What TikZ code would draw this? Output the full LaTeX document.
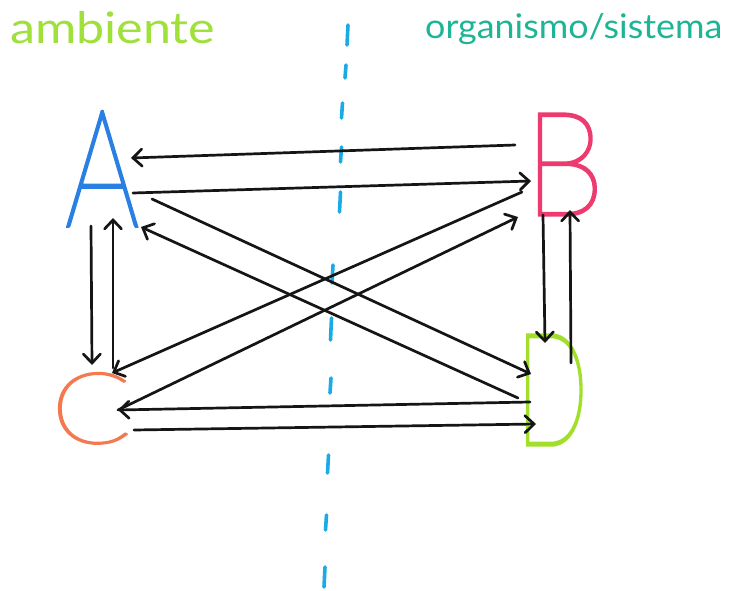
\documentclass[tikz,border=0pt]{standalone}
\usepackage{fontspec}
\usetikzlibrary{arrows.meta}
\setmainfont{Lato}
\IfFontExistsTF{Lato Thin}{\newfontfamily\bigfont{Lato Thin}[FakeBold=2.2]}{%
  \IfFontExistsTF{Lato Light}{\newfontfamily\bigfont{Lato Light}}{\newfontfamily\bigfont{Lato}}}
\definecolor{ambgreen}{HTML}{9FE03A}
\definecolor{orgteal}{HTML}{1EB596}
\definecolor{dashcyan}{HTML}{1AABE6}
\definecolor{Ablue}{HTML}{2A7FE3}
\definecolor{Bpink}{HTML}{EE3B6F}
\definecolor{Corange}{HTML}{F5794F}
\definecolor{Dgreen}{HTML}{A2DF2B}
\definecolor{ink}{HTML}{151515}
\begin{document}
\begin{tikzpicture}[x=1pt,y=-1pt,
  arr/.style={draw=ink, line width=2.7pt, line cap=round,
    -{Straight Barb[length=9pt,width=17pt,line cap=round]}},
  dashseg/.style={draw=dashcyan, line width=3.6pt, line cap=round},
  title/.style={anchor=base west, inner sep=0pt},
  letter/.style={anchor=base west, inner sep=0pt}]
\fill[white] (0,0) rectangle (750,591);
\useasboundingbox (0,0) rectangle (750,591);

% dashed divider
\foreach \xx/\ya/\yb in {347.5/25/45, 345.5/65/78, 342/103/118, 341/147/162,
  340/192/212, 332.5/265/283, 331/318/340, 330.5/378/393, 328/455/473,
  326/515/530, 324.5/567/587}{
  \draw[dashseg] (\xx+0.5,\ya) -- (\xx-0.5,\yb);
}

% titles
\node[title, text=ambgreen] (amb) at (10,44) {\resizebox{205pt}{32pt}{ambiente}};
\node[title, text=orgteal] (org) at (425,39) {\resizebox{297pt}{25pt}{organismo/sistema}};

% letters
\node[letter, text=Ablue]   (A) at (65,226)  {\resizebox{74pt}{114pt}{\bigfont A}};
\node[letter, text=Bpink]   (B) at (524,215) {\resizebox{80pt}{101pt}{\bigfont B}};
\node[letter, text=Corange] (C) at (51,443)  {\resizebox{80pt}{70pt}{\bigfont C}};
\node[letter, text=Dgreen]  (D) at (516,445) {\resizebox{72pt}{110pt}{\bigfont D}};

% arrow end points
\coordinate (ba1) at (515,145); \coordinate (ba2) at (131,158);
\coordinate (ab1) at (133,193); \coordinate (ab2) at (531,181);
\coordinate (ad1) at (152,199); \coordinate (ad2) at (531,374);
\coordinate (da1) at (518,398); \coordinate (da2) at (141,227);
\coordinate (bc1) at (522,192); \coordinate (bc2) at (112,373);
\coordinate (cb1) at (118,410); \coordinate (cb2) at (518,217);
\coordinate (dc1) at (530,402); \coordinate (dc2) at (118,410);
\coordinate (cd1) at (134,430); \coordinate (cd2) at (536,424);
\coordinate (ac1) at (91,226);  \coordinate (ac2) at (92,365);
\coordinate (ca1) at (113,368); \coordinate (ca2) at (113,218);
\coordinate (bd1) at (543,215); \coordinate (bd2) at (545,343);
\coordinate (db1) at (571,363); \coordinate (db2) at (570,210);

% connectors
\draw[arr] (ba1) -- (ba2);
\draw[arr] (ab1) -- (ab2);
\draw[arr] (ad1) -- (ad2);
\draw[arr] (da1) -- (da2);
\draw[arr] (bc1) -- (bc2);
\draw[arr] (cb1) -- (cb2);
\draw[arr] (dc1) -- (dc2);
\draw[arr] (cd1) -- (cd2);
\draw[arr] (ac1) -- (ac2);
\draw[arr] (ca1) -- (ca2);
\draw[arr] (bd1) -- (bd2);
\draw[arr] (db1) -- (db2);
\end{tikzpicture}
\end{document}
